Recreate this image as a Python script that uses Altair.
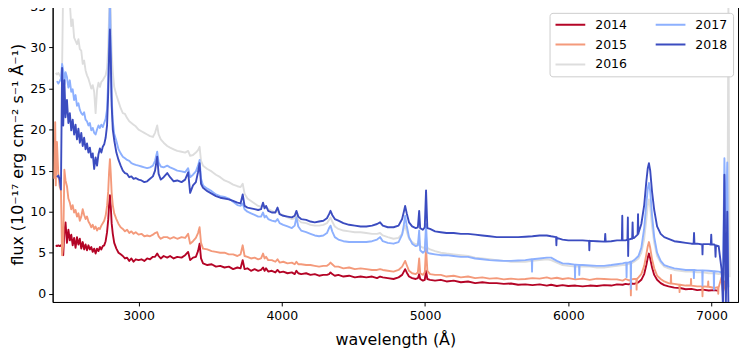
import altair as alt
import pandas as pd

N = None

WL = [
    2412, 2418, 2422, 2430, 2440, 2450, 2458, 2466, 2474, 2482,
    2490, 2500, 2510, 2520, 2530, 2540, 2550, 2560, 2570, 2580,
    2590, 2600, 2610, 2620, 2630, 2640, 2650, 2660, 2670, 2680,
    2690, 2700, 2710, 2720, 2730, 2740, 2750, 2760, 2770, 2780,
    2788, 2794, 2800, 2806, 2812, 2820, 2830, 2845, 2860, 2875,
    2890, 2905, 2920, 2935, 2950, 2965, 2980, 3000, 3020, 3040,
    3060, 3080, 3100, 3115, 3130, 3140, 3155, 3175, 3200, 3220,
    3245, 3270, 3300, 3325, 3346, 3360, 3380, 3400, 3415, 3426,
    3436, 3450, 3480, 3510, 3540, 3570, 3600, 3630, 3660, 3690,
    3712, 3727, 3740, 3760, 3785, 3810, 3835, 3855, 3869, 3880,
    3890, 3905, 3930, 3955, 3970, 3985, 4010, 4040, 4070, 4090,
    4102, 4115, 4135, 4170, 4200, 4230, 4260, 4290, 4315, 4330,
    4340, 4352, 4370, 4395, 4430, 4470, 4510, 4550, 4590, 4630,
    4665, 4686, 4705, 4740, 4780, 4815, 4840, 4852, 4861, 4872,
    4888, 4910, 4935, 4950, 4959, 4966, 4985, 4998, 5007, 5016,
    5035, 5070, 5110, 5150, 5200, 5250, 5300, 5350, 5400, 5450,
    5500, 5550, 5600, 5650, 5700, 5750, 5800, 5850, 5880, 5920,
    5960, 6000, 6050, 6100, 6150, 6200, 6250, 6300, 6340, 6380,
    6400, 6420, 6440, 6460, 6490, 6510, 6530, 6545, 6555, 6563,
    6572, 6585, 6600, 6620, 6645, 6670, 6700, 6740, 6780, 6820,
    6860, 6900, 6940, 6980, 7020, 7050, 7070, 7080, 7090, 7100,
    7110, 7118, 7126,
]

F2014 = [
    N, N, 5.9, 5.8, 5.9, 5.8, 5.9, 5.7, 4.7, 7.5,
    8.7, 6.2, 7.8, 6.5, 7.2, 5.9, 6.8, 5.6, 6.9, 6.0,
    6.7, 5.5, 6.3, 5.4, 6.0, 5.3, 5.9, 5.4, 5.7, 5.1,
    5.5, 4.9, 5.5, 5.2, 5.7, 5.4, 5.8, 5.9, 6.4, 7.5,
    9.0, 10.8, 12.0, 10.6, 8.6, 7.3, 6.2, 5.5, 5.0, 4.8,
    4.6, 4.3, 4.4, 4.0, 4.3, 3.9, 4.2, 4.1, 4.2, 4.0,
    4.3, 4.2, 4.5, 4.5, 4.9, 4.6, 4.3, 4.6, 4.4, 4.6,
    4.3, 4.5, 4.4, 4.7, 5.1, 4.1, 4.4, 4.5, 5.2, 6.1,
    4.3, 3.7, 3.5, 3.6, 3.3, 3.4, 3.2, 3.3, 3.0, 3.2,
    3.1, 4.1, 3.0, 3.1, 2.8, 3.0, 2.8, 2.9, 3.2, 2.8,
    3.1, 2.7, 2.8, 2.6, 2.9, 2.6, 2.7, 2.5, 2.6, 2.4,
    2.8, 2.5, 2.4, 2.5, 2.3, 2.4, 2.2, 2.3, 2.3, 2.4,
    2.6, 2.4, 2.2, 2.3, 2.1, 2.2, 2.0, 2.1, 2.0, 2.1,
    1.9, 2.1, 2.0, 1.9, 1.8, 2.0, 2.3, 2.7, 3.0, 2.6,
    2.1, 1.9, 1.8, 1.9, 2.4, 1.8, 1.6, 1.7, 2.8, 1.8,
    1.7, 1.6, 1.7, 1.5, 1.6, 1.4, 1.5, 1.3, 1.4, 1.3,
    1.3, 1.2, 1.25, 1.1, 1.15, 1.05, 1.15, 1.0, 1.1, 0.95,
    1.05, 0.95, 1.0, 0.9, 1.0, 0.95, 1.05, 1.0, 1.15, 1.1,
    1.2, 1.15, 1.25, 1.2, 1.4, 1.7, 2.4, 3.5, 4.4, 4.9,
    4.3, 3.2, 2.3, 1.7, 1.3, 1.05, 0.9, 0.75, 0.7, 0.55,
    0.6, 0.45, 0.5, 0.4, 0.45, 0.35, N, N, N, N,
    N, N, N,
]

F2015 = [
    14.0, 20.9, 13.2, 18.5, 14.5, 13.0, 12.6, 4.7, 6.0, 15.1,
    13.8, 13.1, 11.6, 11.1, 10.3, 10.8, 9.9, 10.2, 9.4, 9.8,
    8.9, 9.4, 10.3, 9.6, 9.1, 9.4, 8.8, 8.5, 8.1, 8.4,
    7.9, 8.2, 7.7, 8.0, 7.9, 8.3, 8.6, 8.9, 9.5, 10.7,
    12.5, 14.8, 16.4, 14.6, 12.3, 10.8, 9.8, 9.1, 8.5, 8.1,
    7.9, 7.6, 7.8, 7.4, 7.6, 7.3, 7.5, 7.2, 7.3, 7.0,
    7.1, 7.0, 7.2, 7.4, 7.5, 7.0, 6.7, 6.9, 6.9, 6.7,
    6.9, 6.7, 6.9, 6.8, 7.3, 6.1, 6.4, 6.8, 7.4, 8.1,
    6.2, 5.5, 5.4, 5.2, 5.1, 5.0, 5.0, 4.8, 4.8, 4.6,
    4.8, 5.9, 4.6, 4.5, 4.3, 4.4, 4.2, 4.3, 4.9, 4.3,
    4.5, 4.1, 4.1, 3.9, 4.2, 3.8, 3.9, 3.7, 3.8, 3.6,
    3.9, 3.6, 3.6, 3.5, 3.5, 3.4, 3.3, 3.4, 3.4, 3.6,
    3.8, 3.6, 3.3, 3.3, 3.1, 3.2, 3.0, 3.1, 3.0, 2.9,
    2.9, 3.0, 2.9, 2.8, 2.7, 2.9, 3.3, 3.7, 4.0, 3.5,
    2.8, 2.5, 2.4, 2.6, 4.3, 2.5, 2.3, 2.6, 5.6, 2.8,
    2.4, 2.3, 2.3, 2.1, 2.2, 2.0, 2.1, 1.9, 2.0, 1.85,
    1.9, 1.75, 1.85, 1.75, 1.8, 1.9, 1.85, 2.0, 1.85, 1.95,
    1.8, 1.9, 1.75, 1.85, 1.7, 1.85, 1.8, 1.75, 1.75, 1.6,
    1.8, 1.65, 1.75, 1.8, 2.0, 2.4, 3.4, 4.8, 5.8, 6.3,
    5.6, 4.2, 3.1, 2.2, 1.8, 1.5, 1.3, 1.2, 1.1, 1.0,
    1.0, 0.9, 0.9, 0.85, 0.7, 0.8, 2.0, 0.2, 1.5, 0.3,
    2.0, N, N,
]

F2016 = [
    N, N, 26.9, 26.7, 26.9, 26.6, 26.4, 27.5, 38.0, 37.0,
    38.5, 37.0, 36.5, 35.5, 32.6, 33.4, 31.2, 30.8, 30.4, 31.0,
    29.8, 29.6, 28.0, 28.4, 27.2, 26.6, 26.2, 25.6, 25.0, 25.4,
    24.6, 22.0, 24.8, 25.7, 25.2, 25.8, 26.0, 26.3, 26.6, 27.5,
    30.0, 34.0, 38.0, 34.0, 29.5, 27.0, 25.2, 24.2, 23.4, 22.6,
    22.0, 21.9, 21.4, 21.0, 20.8, 20.6, 20.4, 20.0, 19.8, 19.6,
    19.4, 19.2, 19.1, 19.6, 20.5, 19.4, 18.8, 18.4, 18.0, 17.8,
    17.6, 17.4, 17.3, 17.2, 17.4, 16.8, 16.9, 17.2, 17.5, 17.9,
    16.2, 15.6, 15.2, 14.9, 14.5, 14.2, 13.8, 13.6, 13.3, 13.1,
    13.0, 13.4, 12.2, 11.6, 11.3, 11.0, 10.7, 10.6, 10.9, 10.5,
    10.6, 10.3, 10.1, 9.9, 10.1, 9.7, 9.6, 9.3, 9.1, 9.2,
    9.6, 9.0, 8.7, 8.6, 8.4, 8.3, 8.3, 8.4, 8.6, 9.0,
    9.3, 8.8, 8.2, 7.9, 7.7, 7.6, 7.5, 7.5, 7.4, 7.3,
    7.3, 7.4, 7.1, 6.9, 6.7, 6.8, 7.3, 7.9, 8.3, 7.6,
    6.7, 6.3, 6.0, 6.1, 6.6, 5.8, 5.6, 5.7, 7.0, 5.6,
    5.4, 5.2, 5.0, 4.9, 4.8, 4.7, 4.6, 4.4, 4.3, 4.2,
    4.1, 4.0, 3.9, 3.9, 3.9, 4.0, 4.1, 4.2, 4.1, 3.8,
    3.5, 3.4, 3.3, 3.3, 3.3, 3.2, 3.2, 3.3, 3.4, 3.5,
    3.5, 3.6, 3.7, 3.9, 4.3, 5.0, 6.7, 9.0, 10.8, 11.5,
    10.5, 8.2, 6.2, 4.6, 3.8, 3.3, 3.1, 2.9, 2.8, 2.7,
    2.7, 2.6, 2.6, 2.5, 2.5, 2.4, 2.5, 2.4, 2.6, 2.0,
    3.0, 35.5, 2.0,
]

F2017 = [
    N, N, N, 25.9, 25.6, 25.9, 26.2, 28.0, 27.2, 25.5,
    27.0, 26.4, 25.1, 26.0, 24.6, 24.9, 23.6, 24.2, 22.9, 23.2,
    22.4, 22.0, 21.8, 22.1, 21.2, 21.0, 20.5, 20.8, 19.9, 20.2,
    19.6, 19.4, 20.0, 20.5, 20.2, 20.6, 20.3, 20.8, 21.3, 22.5,
    26.0, 31.0, 36.0, 30.0, 24.0, 21.0, 19.5, 18.6, 17.6, 17.1,
    16.7, 16.5, 16.3, 16.2, 15.9, 15.8, 15.7, 15.6, 15.5, 15.4,
    15.3, 15.4, 15.6, 16.2, 17.3, 16.0, 15.5, 15.4, 15.6, 15.4,
    15.2, 15.0, 14.9, 14.8, 15.3, 14.2, 14.5, 14.9, 15.6, 16.3,
    14.0, 13.2, 12.8, 12.5, 12.1, 11.9, 11.8, 11.6, 11.2, 10.8,
    10.7, 11.0, 10.3, 10.0, 9.8, 9.6, 9.4, 9.4, 9.9, 9.3,
    9.5, 9.1, 8.9, 8.8, 9.1, 8.6, 8.4, 8.2, 8.0, 8.3,
    9.3, 8.2, 7.7, 7.5, 7.3, 7.1, 7.0, 7.1, 7.4, 8.0,
    8.3, 7.6, 6.9, 6.6, 6.4, 6.3, 6.3, 6.3, 6.3, 6.4,
    6.6, 6.9, 6.4, 6.2, 6.1, 6.3, 7.2, 8.4, 9.5, 8.3,
    6.9, 6.1, 5.8, 5.9, 7.7, 5.3, 5.0, 5.2, 8.5, 5.0,
    4.9, 4.8, 4.7, 4.7, 4.6, 4.5, 4.5, 4.3, 4.2, 4.1,
    4.05, 4.0, 4.0, 4.05, 4.1, 4.2, 4.3, 4.4, 4.4, 4.0,
    3.7, 3.65, 3.55, 3.5, 3.45, 3.4, 3.4, 3.5, 3.6, 3.7,
    3.8, 3.8, 3.9, 4.1, 4.6, 5.6, 8.0, 11.0, 12.8, 13.5,
    12.5, 9.5, 6.9, 5.0, 4.0, 3.5, 3.3, 3.1, 3.0, 2.9,
    2.9, 2.85, 2.85, 2.8, 2.75, 2.7, 2.6, 2.2, 16.5, 8.0,
    16.0, 0.8, N,
]

F2018 = [
    N, N, N, 14.2, 14.4, 13.9, 12.7, 27.5, 20.5, 26.0,
    21.5, 23.6, 20.8, 22.0, 19.9, 21.2, 19.4, 20.6, 18.8, 20.1,
    18.4, 19.6, 18.0, 19.0, 17.6, 18.3, 17.2, 17.8, 16.6, 17.1,
    15.2, 16.6, 15.6, 17.0, 17.7, 17.2, 17.9, 18.2, 19.0, 20.5,
    24.5, 29.0, 32.2, 28.5, 23.0, 20.0, 18.7, 17.2, 16.3, 15.6,
    15.0, 14.7, 14.6, 14.2, 14.3, 14.0, 14.1, 13.9, 13.8, 13.6,
    13.7, 14.0, 14.3, 15.0, 16.7, 14.6, 13.9, 14.2, 14.7, 14.2,
    13.7, 13.8, 13.6, 13.9, 14.8, 12.3, 13.2, 13.6, 14.8, 15.9,
    13.4, 12.9, 12.5, 12.2, 11.9, 11.7, 11.6, 11.5, 11.3, 11.1,
    11.0, 12.1, 10.7, 10.5, 10.4, 10.3, 10.2, 10.3, 11.1, 10.4,
    10.7, 10.1, 9.9, 9.9, 10.5, 9.7, 9.5, 9.4, 9.3, 9.5,
    10.1, 9.4, 9.1, 9.0, 8.8, 8.7, 8.8, 8.9, 9.2, 9.7,
    10.1, 9.6, 9.1, 8.9, 8.6, 8.4, 8.3, 8.2, 8.2, 8.3,
    8.5, 8.7, 8.3, 8.1, 8.1, 8.3, 9.1, 10.0, 10.7, 9.8,
    8.7, 8.2, 8.0, 8.1, 10.1, 8.0, 7.8, 8.1, 12.6, 8.0,
    7.9, 7.6, 7.5, 7.4, 7.4, 7.3, 7.3, 7.2, 7.1, 7.0,
    6.9, 6.9, 6.9, 6.9, 6.95, 7.0, 7.1, 7.1, 7.0, 6.8,
    6.6, 6.5, 6.5, 6.5, 6.45, 6.4, 6.35, 6.4, 6.5, 6.5,
    6.5, 6.6, 6.7, 6.8, 7.4, 8.5, 10.8, 13.7, 15.3, 15.9,
    15.0, 12.4, 10.2, 8.2, 7.3, 6.9, 6.7, 6.4, 6.3, 6.2,
    6.1, 6.1, 6.05, 6.05, 6.0, 5.8, 3.0, -1.5, 14.5, -1.5,
    10.0, -1.5, -1.5,
]

# narrow noise spikes: (wavelength, flux)
SPIKES_2015 = [
    (6435, 1.7), (6437, -0.2), (6439, 1.75),
    (6475, 1.8), (6477, 0.5), (6479, 1.8),
    (6715, 1.25), (6717, 2.3), (6719, 1.25),
    (6775, 1.1), (6777, 0.2), (6779, 1.1),
    (6855, 1.0), (6857, 1.8), (6859, 1.0),
    (6935, 0.9), (6937, -0.3), (6939, 0.9),
    (6975, 0.85), (6977, 1.5), (6979, 0.85),
    (7045, 0.8), (7047, 0.0), (7049, 0.8),
]
SPIKES_2017 = [
    (5745, 4.2), (5747, 2.7), (5749, 4.2),
    (6045, 3.55), (6047, 1.9), (6049, 3.55),
    (6075, 3.5), (6077, 2.3), (6079, 3.5),
    (6405, 3.8), (6407, 2.0), (6409, 3.8),
    (6435, 3.9), (6437, 0.6), (6439, 3.9),
    (6875, 2.9), (6877, 1.9), (6879, 2.9),
    (6935, 2.85), (6937, 1.0), (6939, 2.85),
    (7015, 2.75), (7017, 0.5), (7019, 2.75),
]
SPIKES_2018 = [
    (5915, 6.9), (5917, 5.9), (5919, 6.9),
    (6145, 6.45), (6147, 5.3), (6149, 6.45),
    (6255, 6.35), (6258, 7.3), (6261, 6.35),
    (6374, 6.5), (6377, 9.5), (6379, 6.5),
    (6413, 6.6), (6416, 9.3), (6418, 4.6),
    (6446, 6.7), (6449, 8.7), (6452, 6.8),
    (6484, 7.2), (6487, 9.7), (6489, 7.3),
    (6875, 6.1), (6878, 7.4), (6881, 6.1),
    (6935, 6.0), (6937, 4.8), (6939, 6.0),
    (6995, 6.0), (6998, 7.2), (7001, 6.0),
    (7025, 5.9), (7028, 4.5), (7031, 5.9),
]

YEARS = ["2014", "2015", "2016", "2017", "2018"]
COLORS = ["#b40426", "#f49a7b", "#dddddd", "#8db0fe", "#3b4cc0"]
SERIES = [F2014, F2015, F2016, F2017, F2018]
SPIKES = [[], SPIKES_2015, [], SPIKES_2017, SPIKES_2018]
X_TICKS = [3000, 4000, 5000, 6000, 7000]
Y_TICKS = [0, 5, 10, 15, 20, 25, 30, 35]

for s in SERIES:
    assert len(s) == len(WL)

rows = []
for year, vals, extra in zip(YEARS, SERIES, SPIKES):
    for w, v in zip(WL, vals):
        if v is not None:
            rows.append({"wavelength": w, "flux": v, "year": year})
    for w, v in extra:
        rows.append({"wavelength": w, "flux": v, "year": year})
df = pd.DataFrame(rows)

color_scale = alt.Scale(domain=YEARS, range=COLORS)

FONT = "DejaVu Sans"

base = alt.Chart(df).mark_line(strokeWidth=1.9, clip=True, strokeJoin="round").encode(
    x=alt.X(
        "wavelength:Q",
        scale=alt.Scale(domain=[2400, 7185], nice=False, zero=False),
        axis=alt.Axis(
            values=X_TICKS, title="wavelength (Å)", grid=False, format="d",
            titleY=30, titleBaseline="top", labelPadding=4,
        ),
    ),
    y=alt.Y(
        "flux:Q",
        scale=alt.Scale(domain=[-1, 35], nice=False, zero=False),
        axis=alt.Axis(
            values=Y_TICKS, title="flux (10⁻¹⁷ erg cm⁻² s⁻¹ Å⁻¹)", grid=False,
            titleX=-27, titleBaseline="bottom", titleAngle=270, labelPadding=3,
        ),
    ),
    color=alt.Color(
        "year:N",
        scale=color_scale,
        legend=alt.Legend(
            title=None, orient="none", legendX=501, legendY=6.5, columns=2,
            symbolType="stroke", symbolSize=900, symbolStrokeWidth=2,
            labelFontSize=12.6, labelFont=FONT, labelColor="black",
            labelOffset=9, columnPadding=27, rowPadding=6, padding=5,
            clipHeight=14,
            fillColor="white", strokeColor="#cccccc", cornerRadius=3,
        ),
    ),
)

layers = [base.transform_filter(alt.datum.year == y) for y in YEARS]

chart = alt.layer(*layers).properties(
    width=691,
    height=298,
    autosize=alt.AutoSizeParams(type="none"),
    padding={"left": 45, "top": -3, "right": 2, "bottom": 45},
).configure_view(
    stroke="black", strokeWidth=1
).configure_axis(
    labelFont=FONT, titleFont=FONT, labelFontSize=12.6, titleFontSize=16,
    titleFontWeight="normal", labelColor="black", titleColor="black",
    domainColor="black", tickColor="black", tickSize=4,
    domainWidth=1, tickWidth=1,
)

chart.save("out.html", embed_options={"renderer": "svg", "actions": False})
